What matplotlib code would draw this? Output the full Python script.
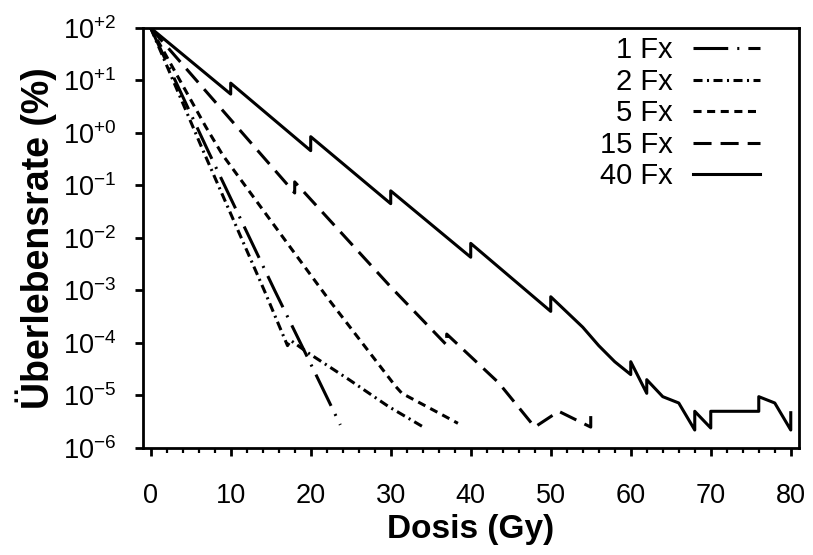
import matplotlib
matplotlib.use("Agg")
import matplotlib.pyplot as plt
from matplotlib.ticker import MultipleLocator

plt.rcParams['font.family'] = ['Liberation Sans', 'DejaVu Sans']
plt.rcParams['mathtext.fontset'] = 'custom'
plt.rcParams['mathtext.rm'] = 'Liberation Sans'
plt.rcParams['mathtext.it'] = 'Liberation Sans'
plt.rcParams['mathtext.bf'] = 'Liberation Sans:bold'
plt.rcParams['lines.scale_dashes'] = False

# survival curves (dose in Gy, survival in %)
dose_1fx = [0, 7.1, 15.5, 20.6, 23.7]
surv_1fx = [100, 0.48, 1.0e-3, 2.6e-5, 2.75e-6]

dose_2fx = [0, 6.5, 14.2, 17.1, 17.5, 19.8, 24.8, 29.7, 33.9]
surv_2fx = [100, 0.48, 1.0e-3, 8.9e-5, 1.12e-4, 6.3e-5, 2.0e-5, 6.2e-6, 2.6e-6]

dose_5fx = [0, 6.9, 9, 17.7, 22.3, 30.6, 31.4, 36.8, 38.4]
surv_5fx = [100, 1.3, 0.38, 5.9e-3, 6.6e-4, 1.5e-5, 1.1e-5, 4.0e-6, 2.95e-6]

dose_15fx = [0, 18, 18, 30, 37, 37, 43.5, 48, 51, 55, 55]
surv_15fx = [100, 0.072, 0.117, 1.17e-3, 9.1e-5, 1.48e-4, 1.74e-5, 2.5e-6,
             5.0e-6, 2.5e-6, 4.3e-6]

dose_40fx = [0, 10, 10, 20, 20, 30, 30, 40, 40, 50, 50, 54, 56, 58, 60, 60,
             62, 62, 64, 66, 68, 68, 70, 70, 76, 76, 78, 80, 80]
surv_40fx = [100, 5.5, 8.9, 0.46, 0.85, 0.045, 0.079, 0.0043, 0.0079,
             4.0e-4, 7.6e-4, 2.0e-4, 8.9e-5, 4.4e-5, 2.5e-5, 4.4e-5,
             1.1e-5, 2.0e-5, 9.5e-6, 7.2e-6, 2.2e-6, 5.0e-6, 2.4e-6, 5.0e-6,
             5.0e-6, 9.5e-6, 7.2e-6, 2.2e-6, 4.7e-6]

yticks = [1e2, 1e1, 1e0, 1e-1, 1e-2, 1e-3, 1e-4, 1e-5, 1e-6]
ytick_labels = [r'$10^{+2}$', r'$10^{+1}$', r'$10^{+0}$', r'$10^{-1}$',
                r'$10^{-2}$', r'$10^{-3}$', r'$10^{-4}$', r'$10^{-5}$',
                r'$10^{-6}$']

fig = plt.figure(figsize=(8.13, 5.55), dpi=100)
ax = fig.add_axes([0.1755, 0.1928, 0.807, 0.7568])

lw = 2.2
ax.plot(dose_1fx, surv_1fx, color='black', lw=lw, dashes=(25, 6.5, 1.5, 6.5), label='1 Fx')
ax.plot(dose_2fx, surv_2fx, color='black', lw=lw, dashes=(6.5, 3.2, 1.5, 3.2), label='2 Fx')
ax.plot(dose_5fx, surv_5fx, color='black', lw=lw, dashes=(5.8, 4.0), label='5 Fx')
ax.plot(dose_15fx, surv_15fx, color='black', lw=lw, dashes=(13, 6.5), label='15 Fx')
ax.plot(dose_40fx, surv_40fx, color='black', lw=lw, label='40 Fx')

ax.set_yscale('log')
ax.set_xlim(-1, 81)
ax.set_ylim(1e-6, 1e2)
ax.set_yticks(yticks)
ax.set_yticklabels(ytick_labels)
ax.yaxis.set_minor_locator(plt.NullLocator())
ax.xaxis.set_major_locator(MultipleLocator(10))
ax.xaxis.set_minor_locator(MultipleLocator(2))

for s in ax.spines.values():
    s.set_linewidth(2.0)
ax.tick_params(which='major', direction='out', length=6, width=2.0,
               labelsize=19.5)
ax.tick_params(axis='y', which='major', pad=13)
ax.tick_params(axis='x', which='major', pad=19)
ax.tick_params(which='minor', direction='out', length=3.5, width=1.6)

ax.set_xlabel('Dosis (Gy)', fontsize=24, fontweight='bold', labelpad=4)
ax.set_ylabel('Überlebensrate (%)', fontsize=27, fontweight='bold', labelpad=4)

ax.legend(loc='upper right', bbox_to_anchor=(0.9406, 0.98), frameon=False,
          markerfirst=False, fontsize=21, handlelength=2.3, handletextpad=0.68,
          labelspacing=0.12, borderpad=0, borderaxespad=0)

fig.savefig('out.png', dpi=100)
